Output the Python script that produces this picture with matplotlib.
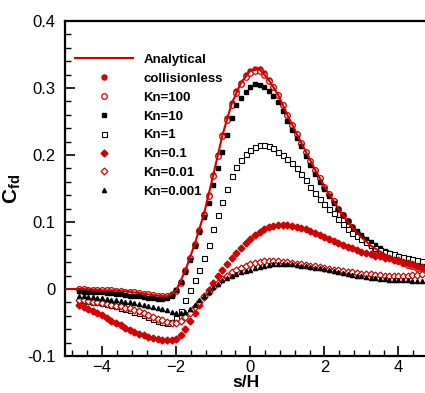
import numpy as np
import matplotlib
matplotlib.use("Agg")
import matplotlib.pyplot as plt

plt.rcParams["font.family"] = ["Liberation Sans", "DejaVu Sans"]
plt.rcParams["mathtext.fontset"] = "custom"
plt.rcParams["mathtext.rm"] = "Liberation Sans"
plt.rcParams["mathtext.bf"] = "Liberation Sans:bold"

RED = "#d40000"

# sample positions s/H of the simulation points
s = np.arange(75) * 0.125 - 4.625

collisionless = [0.000, 0.000, -0.001, -0.001, -0.001, -0.002, -0.002, -0.002, -0.003, -0.003,
                 -0.004, -0.004, -0.005, -0.006, -0.007, -0.008, -0.009, -0.010, -0.011, -0.011,
                 -0.008, -0.002, 0.010, 0.028, 0.047, 0.067, 0.088, 0.112, 0.140, 0.170,
                 0.200, 0.230, 0.255, 0.277, 0.295, 0.308, 0.319, 0.326, 0.329, 0.328,
                 0.322, 0.312, 0.302, 0.290, 0.275, 0.260, 0.245, 0.232, 0.218, 0.205,
                 0.191, 0.178, 0.165, 0.153, 0.142, 0.131, 0.120, 0.110, 0.101, 0.092,
                 0.084, 0.077, 0.071, 0.065, 0.060, 0.056, 0.052, 0.048, 0.045, 0.042,
                 0.039, 0.036, 0.034, 0.032, 0.030]

kn100 = [0.000, 0.000, -0.001, -0.001, -0.001, -0.002, -0.002, -0.002, -0.003, -0.003,
         -0.004, -0.004, -0.005, -0.006, -0.007, -0.008, -0.009, -0.010, -0.011, -0.011,
         -0.009, -0.003, 0.009, 0.027, 0.046, 0.066, 0.087, 0.111, 0.139, 0.169,
         0.199, 0.228, 0.253, 0.275, 0.293, 0.306, 0.317, 0.323, 0.326, 0.325,
         0.320, 0.311, 0.301, 0.289, 0.275, 0.260, 0.245, 0.232, 0.218, 0.205,
         0.191, 0.178, 0.165, 0.153, 0.142, 0.131, 0.120, 0.110, 0.101, 0.092,
         0.084, 0.077, 0.071, 0.065, 0.060, 0.056, 0.052, 0.048, 0.045, 0.042,
         0.039, 0.036, 0.034, 0.032, 0.030]

kn10 = [-0.003, -0.004, -0.004, -0.005, -0.005, -0.005, -0.006, -0.006, -0.007, -0.008,
        -0.009, -0.010, -0.010, -0.011, -0.012, -0.013, -0.014, -0.015, -0.015, -0.014,
        -0.010, -0.002, 0.010, 0.025, 0.044, 0.064, 0.085, 0.107, 0.128, 0.155,
        0.180, 0.205, 0.230, 0.255, 0.274, 0.285, 0.294, 0.302, 0.306, 0.305,
        0.302, 0.296, 0.288, 0.279, 0.265, 0.251, 0.238, 0.226, 0.213, 0.199,
        0.185, 0.172, 0.160, 0.149, 0.139, 0.129, 0.119, 0.110, 0.101, 0.093,
        0.086, 0.080, 0.075, 0.070, 0.066, 0.061, 0.057, 0.054, 0.051, 0.049,
        0.046, 0.044, 0.042, 0.040, 0.038]

kn1 = [-0.016, -0.017, -0.018, -0.019, -0.020, -0.021, -0.023, -0.024, -0.026, -0.028,
       -0.030, -0.032, -0.034, -0.036, -0.039, -0.042, -0.045, -0.047, -0.049, -0.050,
       -0.049, -0.043, -0.033, -0.017, -0.001, 0.014, 0.029, 0.046, 0.066, 0.090,
       0.110, 0.130, 0.150, 0.168, 0.182, 0.193, 0.202, 0.208, 0.212, 0.215,
       0.215, 0.213, 0.210, 0.205, 0.200, 0.194, 0.188, 0.181, 0.172, 0.163,
       0.153, 0.144, 0.135, 0.127, 0.120, 0.113, 0.105, 0.097, 0.090, 0.084,
       0.079, 0.075, 0.070, 0.066, 0.062, 0.059, 0.056, 0.054, 0.052, 0.050,
       0.048, 0.047, 0.045, 0.043, 0.042]

kn01 = [-0.024, -0.027, -0.030, -0.033, -0.036, -0.039, -0.043, -0.047, -0.050, -0.054,
        -0.058, -0.061, -0.064, -0.067, -0.069, -0.071, -0.073, -0.075, -0.076, -0.076,
        -0.076, -0.074, -0.069, -0.060, -0.048, -0.036, -0.024, -0.012, -0.001, 0.009,
        0.019, 0.029, 0.038, 0.046, 0.054, 0.061, 0.068, 0.074, 0.080, 0.085,
        0.089, 0.092, 0.094, 0.095, 0.0955, 0.095, 0.094, 0.0925, 0.091, 0.089,
        0.087, 0.084, 0.081, 0.078, 0.075, 0.072, 0.069, 0.066, 0.063, 0.061,
        0.058, 0.056, 0.054, 0.052, 0.050, 0.049, 0.047, 0.046, 0.044, 0.043,
        0.041, 0.039, 0.037, 0.035, 0.033]

kn001 = [-0.016, -0.017, -0.018, -0.019, -0.020, -0.021, -0.022, -0.024, -0.025, -0.026,
         -0.028, -0.029, -0.031, -0.033, -0.035, -0.038, -0.041, -0.044, -0.046, -0.049,
         -0.051, -0.051, -0.048, -0.042, -0.035, -0.027, -0.019, -0.011, -0.004, 0.003,
         0.009, 0.015, 0.020, 0.025, 0.029, 0.032, 0.035, 0.037, 0.039, 0.041,
         0.0415, 0.042, 0.042, 0.042, 0.041, 0.040, 0.039, 0.038, 0.037, 0.036,
         0.035, 0.034, 0.033, 0.031, 0.030, 0.029, 0.028, 0.027, 0.026, 0.025,
         0.024, 0.023, 0.023, 0.022, 0.021, 0.021, 0.020, 0.020, 0.020, 0.020,
         0.020, 0.020, 0.021, 0.021, 0.022]

kn0001 = [-0.010, -0.011, -0.012, -0.012, -0.013, -0.014, -0.015, -0.016, -0.017, -0.018,
          -0.019, -0.020, -0.021, -0.022, -0.024, -0.025, -0.027, -0.028, -0.030, -0.032,
          -0.034, -0.035, -0.036, -0.034, -0.030, -0.024, -0.017, -0.011, -0.004, 0.003,
          0.008, 0.013, 0.017, 0.020, 0.023, 0.025, 0.027, 0.029, 0.031, 0.033,
          0.035, 0.036, 0.037, 0.038, 0.038, 0.038, 0.037, 0.036, 0.035, 0.034,
          0.033, 0.032, 0.031, 0.030, 0.029, 0.027, 0.026, 0.024, 0.023, 0.021,
          0.020, 0.019, 0.018, 0.017, 0.016, 0.015, 0.015, 0.014, 0.014, 0.013,
          0.013, 0.013, 0.012, 0.012, 0.012]

# analytical curve
s_an = np.arange(40) * 0.25 - 5.0
analytical = [0.000, 0.000, 0.000, -0.001, -0.002, -0.002, -0.003, -0.004, -0.006, -0.008,
              -0.010, -0.011, -0.002, 0.028, 0.067, 0.112, 0.170, 0.230, 0.277, 0.308,
              0.326, 0.328, 0.312, 0.290, 0.260, 0.232, 0.205, 0.178, 0.153, 0.131,
              0.110, 0.092, 0.077, 0.065, 0.056, 0.048, 0.042, 0.036, 0.032, 0.028]

fig = plt.figure(figsize=(4.25, 3.93), dpi=100)
ax = fig.add_axes([0.153, 0.094, 0.85, 0.8525])

ax.plot(s_an, analytical, "-", color=RED, lw=1.5, label="Analytical", zorder=5)
ax.plot(s, collisionless, "o", color=RED, ms=3.6, label="collisionless")
ax.plot(s, kn100, "o", mfc="white", mec=RED, mew=0.9, ms=4, label="Kn=100")
ax.plot(s, kn10, "s", color="black", ms=3, label="Kn=10")
ax.plot(s, kn1, "s", mfc="white", mec="black", mew=0.8, ms=3.6, label="Kn=1")
ax.plot(s, kn01, "D", color=RED, ms=3.5, label="Kn=0.1")
ax.plot(s, kn001, "D", mfc="white", mec=RED, mew=0.9, ms=3.5, label="Kn=0.01")
ax.plot(s, kn0001, "^", color="black", ms=3, label="Kn=0.001")

ax.set_xlim(-5.0, 4.75)
ax.set_ylim(-0.1, 0.4)
ax.set_xticks([-4, -2, 0, 2, 4])
ax.set_yticks([-0.1, 0, 0.1, 0.2, 0.3, 0.4])
ax.set_yticklabels(["-0.1", "0", "0.1", "0.2", "0.3", "0.4"])
ax.set_xticks(np.arange(-4.8, 4.8, 0.4), minor=True)
ax.set_yticks(np.arange(-0.1, 0.401, 0.02), minor=True)
ax.tick_params(which="major", direction="in", length=7, width=1.2, labelsize=12, top=False, right=False)
ax.tick_params(axis="y", which="major", pad=7)
ax.tick_params(axis="x", which="major", pad=3)
ax.tick_params(which="minor", direction="in", length=4, width=1, top=False, right=False)
for sp in ["left", "bottom", "top"]:
    ax.spines[sp].set_linewidth(1.6)
ax.spines["right"].set_visible(False)

ax.set_xlabel("s/H", fontsize=12.5, fontweight="bold", labelpad=0)
ax.set_ylabel(r"$\mathbf{C}_{\mathbf{fd}}$", fontsize=15, labelpad=3)

leg = ax.legend(loc="upper left", bbox_to_anchor=(0.02, 0.91), frameon=False,
                prop={"weight": "bold", "size": 9.5}, handlelength=4.4,
                labelspacing=0.5, handletextpad=0.8, borderaxespad=0.0, borderpad=0.2)

fig.savefig("out.png", dpi=100)
